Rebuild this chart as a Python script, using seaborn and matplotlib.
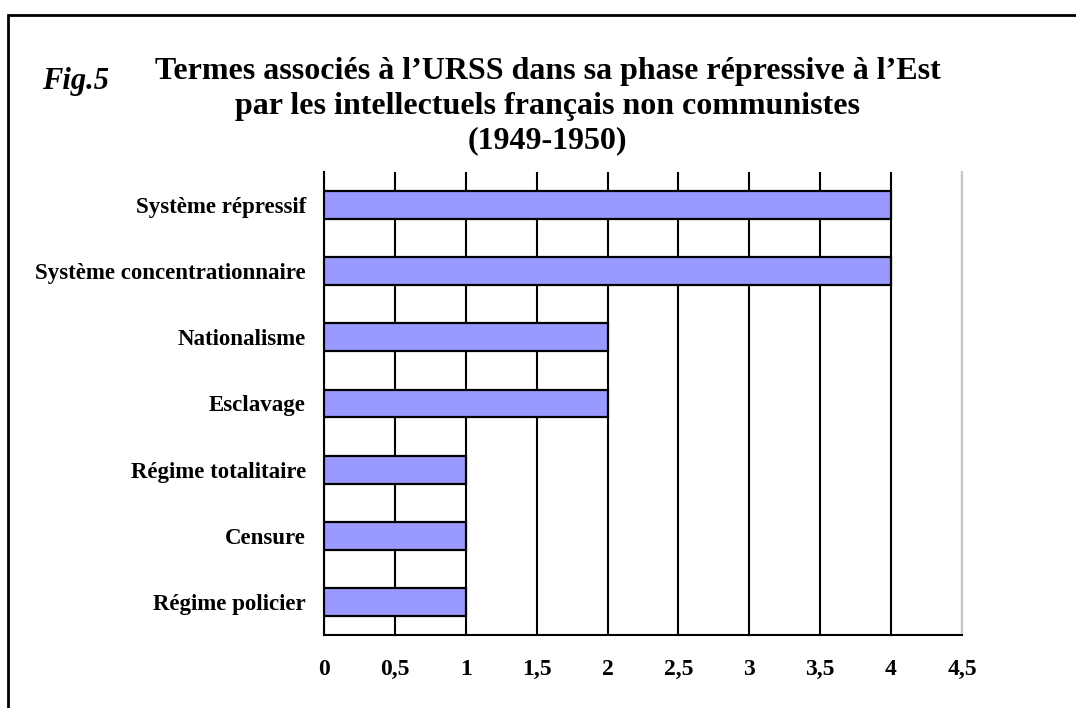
import matplotlib
matplotlib.use("Agg")
import matplotlib.pyplot as plt
import seaborn as sns
import numpy as np
from matplotlib.patches import Rectangle

termes = ["Système répressif", "Système concentrationnaire", "Nationalisme",
          "Esclavage", "Régime totalitaire", "Censure", "Régime policier"]
occurrences = [4, 4, 2, 2, 1, 1, 1]
x_ticks = [0, 0.5, 1, 1.5, 2, 2.5, 3, 3.5, 4, 4.5]
x_labels = ["0", "0,5", "1", "1,5", "2", "2,5", "3", "3,5", "4", "4,5"]

sns.set_style("white")
plt.rcParams['font.family'] = ['Liberation Serif', 'DejaVu Serif']
plt.rcParams['font.weight'] = 'bold'
plt.rcParams['text.color'] = 'black'
plt.rcParams['xtick.color'] = 'black'
plt.rcParams['ytick.color'] = 'black'

fig = plt.figure(figsize=(10.76, 7.08), dpi=100)
ax = fig.add_axes([0.3011, 0.1031, 0.5929, 0.654])

sns.barplot(x=occurrences, y=termes, orient='h', color='#9999FF',
            edgecolor='black', linewidth=1.6, width=0.42, saturation=1, ax=ax, zorder=3)

ax.set_xlim(0, 4.5)
ax.set_xticks(x_ticks)
ax.set_xticklabels(x_labels, fontsize=17, fontweight='bold')
ax.tick_params(axis='x', direction='inout', length=14, width=1.5, pad=10)
ax.xaxis.grid(True, color='black', linewidth=1.5, zorder=1)
ax.set_axisbelow(True)

# y ticks: labels at bar centres, tick marks between categories
ax.tick_params(axis='y', length=0, pad=13)
for lab in ax.get_yticklabels():
    lab.set_fontsize(16.5)
    lab.set_fontweight('bold')
ax.set_yticks(np.arange(-0.5, len(termes), 1), minor=True)
ax.tick_params(axis='y', which='minor', direction='out', length=7, width=1.5)

ax.set_xlabel("")
ax.set_ylabel("")
for side in ['left', 'bottom']:
    ax.spines[side].set_color('black')
    ax.spines[side].set_linewidth(1.5)
ax.spines['top'].set_visible(False)
ax.spines['right'].set_color('#c8c8c8')
ax.spines['right'].set_linewidth(1.5)

fig.text(0.509, 0.85, "Termes associés à l’URSS dans sa phase répressive à l’Est\n"
         "par les intellectuels français non communistes\n(1949-1950)",
         ha='center', va='center', fontsize=23, fontweight='bold', linespacing=1.25)
fig.text(0.039, 1 - 89 / 708, "Fig.5", fontsize=22, fontweight='bold', style='italic',
         ha='left', va='baseline')

fig.patches.append(Rectangle((8 / 1076, -0.05), 1.2, 1 - 15 / 708 + 0.05,
                             transform=fig.transFigure, fill=False,
                             edgecolor='black', linewidth=2))

fig.savefig("out.png", dpi=100)
